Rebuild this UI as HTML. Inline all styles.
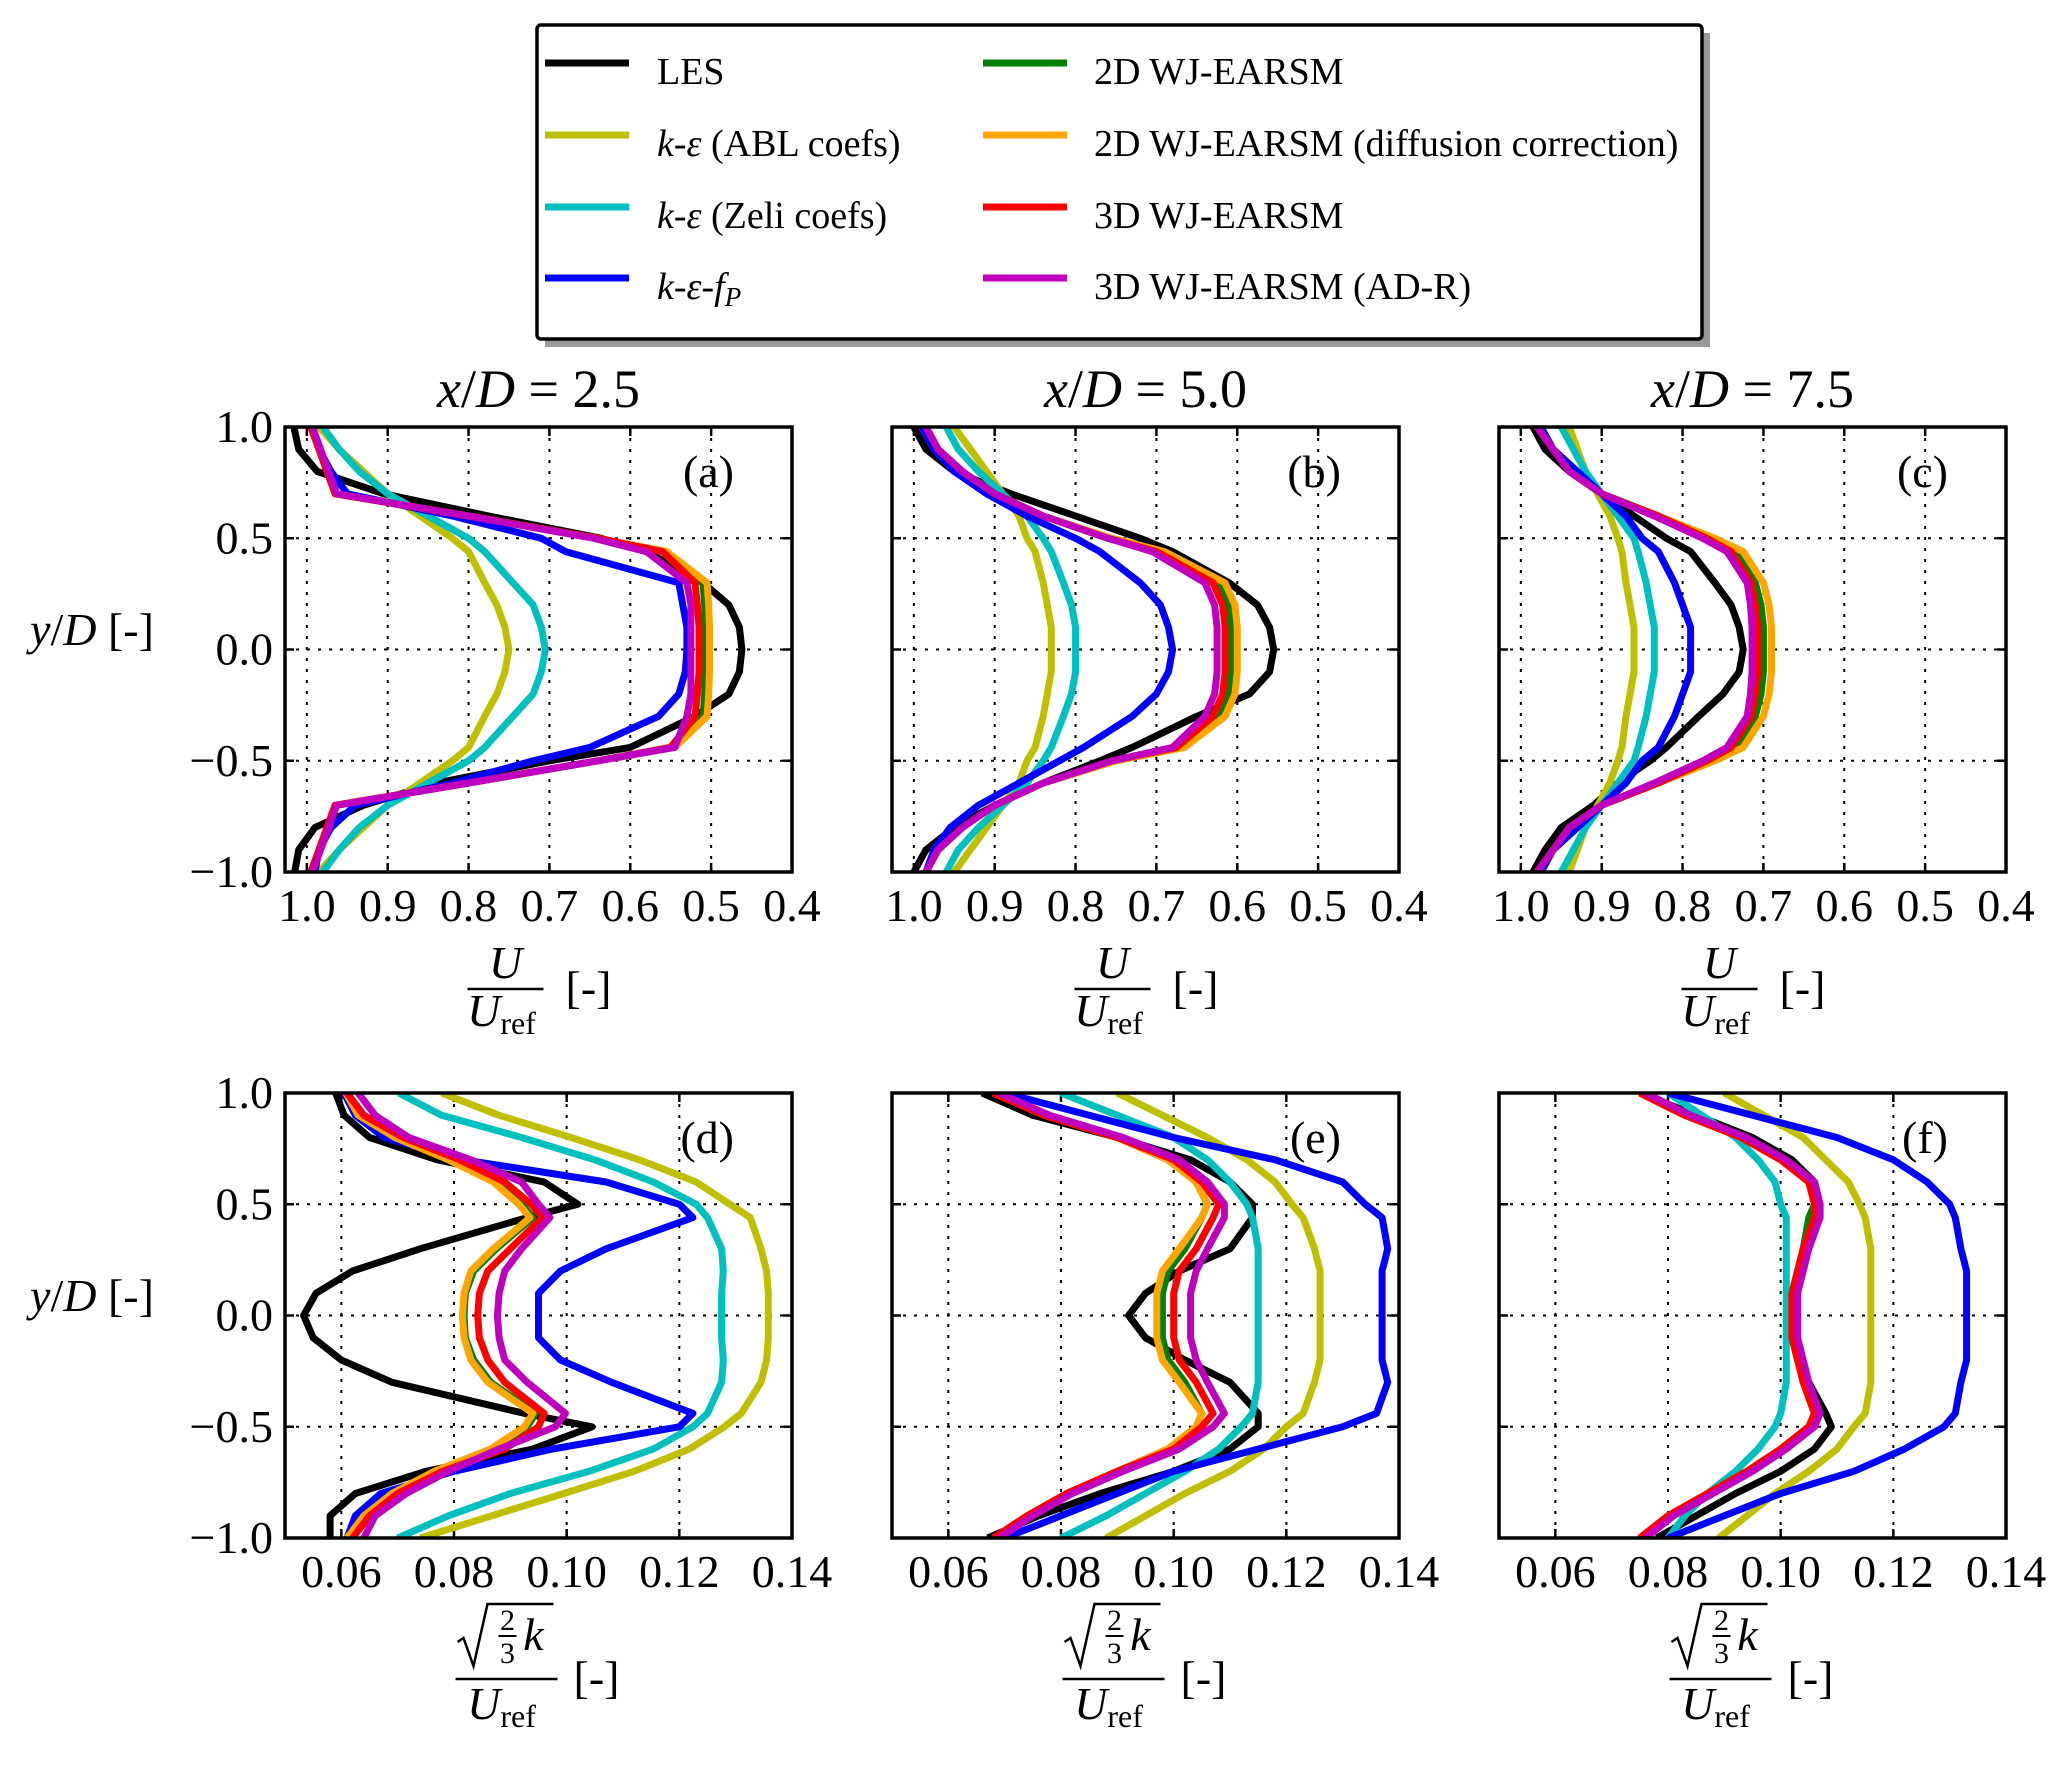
<!DOCTYPE html>
<html><head><meta charset="utf-8"><style>
html,body{margin:0;padding:0;background:#fff;}
svg{display:block;font-family:"Liberation Serif",serif;}
</style></head><body>
<svg id="fig" width="2067" height="1765" viewBox="0 0 2067 1765" xmlns="http://www.w3.org/2000/svg">
<g id="legend">
<rect x="545" y="33" width="1165" height="314" fill="#9a9a9a"/>
<rect x="537" y="25" width="1165" height="314" rx="4" fill="#fff" stroke="#000" stroke-width="3.5"/>
</g>
<g id="panels"></g>
</svg>
<script>
const NS="http://www.w3.org/2000/svg";
const Y=[1,0.9,0.8,0.7,0.6,0.5,0.44,0.3,0.2,0.1,0,-0.1,-0.2,-0.3,-0.44,-0.5,-0.6,-0.7,-0.8,-0.9,-1];
const seriesNames=["LES","k-eps ABL","k-eps Zeli","k-eps-fP","2D WJ-EARSM","2D WJ-EARSM diff","3D WJ-EARSM","3D WJ-EARSM AD-R"];
const seriesColors=["#000000","#bfbf00","#00bfbf","#0000ff","#008000","#ffa500","#ff0000","#bf00bf"];
const topTicks=[1.0,0.9,0.8,0.7,0.6,0.5,0.4];
const topTickLabels=["1.0","0.9","0.8","0.7","0.6","0.5","0.4"];
const botTicks=[0.06,0.08,0.10,0.12,0.14];
const botTickLabels=["0.06","0.08","0.10","0.12","0.14"];
const yTicks=[1,0.5,0,-0.5,-1];
const yTickLabels=["1.0","0.5","0.0","\u22120.5","\u22121.0"];
const panelTitles=["2.5","5.0","7.5"];
const panelLetters=["(a)","(b)","(c)","(d)","(e)","(f)"];
const a_les=[1.016,1.01,0.987,0.905,0.775,0.636,0.58,0.51,0.478,0.465,0.462,0.465,0.478,0.52,0.6,0.7,0.84,0.93,0.99,1.01,1.015];
const a_abl=[0.985,0.96,0.93,0.9,0.86,0.82,0.8,0.78,0.765,0.755,0.75,0.755,0.765,0.78,0.8,0.82,0.86,0.9,0.93,0.96,0.985];
const a_zeli=[0.98,0.96,0.935,0.9,0.85,0.8,0.78,0.745,0.72,0.71,0.705,0.71,0.72,0.745,0.78,0.8,0.85,0.9,0.935,0.96,0.98];
const a_fp=[0.995,0.985,0.97,0.95,0.82,0.71,0.68,0.54,0.535,0.53,0.53,0.532,0.54,0.565,0.65,0.72,0.82,0.94,0.97,0.985,0.99];
const a_2d=[0.995,0.985,0.975,0.965,0.8,0.64,0.56,0.51,0.508,0.507,0.507,0.507,0.508,0.51,0.55,0.64,0.8,0.965,0.975,0.985,0.995];
const a_2dd=[0.995,0.985,0.975,0.965,0.8,0.64,0.555,0.505,0.503,0.502,0.502,0.502,0.503,0.505,0.545,0.64,0.8,0.965,0.975,0.985,0.995];
const a_3d=[0.995,0.985,0.975,0.965,0.8,0.64,0.56,0.52,0.517,0.515,0.515,0.515,0.517,0.52,0.55,0.64,0.8,0.965,0.975,0.985,0.995];
const a_adr=[0.993,0.983,0.973,0.963,0.8,0.645,0.58,0.53,0.525,0.525,0.525,0.525,0.525,0.53,0.545,0.64,0.8,0.963,0.973,0.983,0.993];
const b_les=[1.0,0.985,0.95,0.88,0.8,0.72,0.68,0.61,0.575,0.56,0.555,0.56,0.585,0.65,0.73,0.77,0.84,0.9,0.95,0.985,1.0];
const b_abl=[0.95,0.93,0.91,0.89,0.87,0.86,0.85,0.84,0.835,0.83,0.83,0.83,0.835,0.84,0.85,0.86,0.87,0.89,0.91,0.93,0.95];
const b_zeli=[0.96,0.945,0.92,0.89,0.86,0.84,0.83,0.815,0.805,0.8,0.8,0.8,0.805,0.815,0.83,0.84,0.86,0.89,0.92,0.945,0.96];
const b_fp=[0.99,0.975,0.95,0.91,0.86,0.8,0.77,0.72,0.695,0.685,0.68,0.685,0.7,0.73,0.79,0.82,0.87,0.92,0.955,0.975,0.985];
const b_2d=[0.985,0.97,0.94,0.9,0.84,0.76,0.7,0.625,0.61,0.607,0.607,0.607,0.61,0.625,0.67,0.75,0.84,0.9,0.94,0.97,0.985];
const b_2dd=[0.985,0.97,0.94,0.9,0.84,0.755,0.69,0.615,0.603,0.6,0.6,0.6,0.603,0.615,0.665,0.75,0.84,0.9,0.94,0.97,0.985];
const b_3d=[0.985,0.97,0.94,0.9,0.84,0.76,0.7,0.63,0.618,0.615,0.615,0.615,0.618,0.63,0.675,0.755,0.84,0.9,0.94,0.97,0.985];
const b_adr=[0.985,0.97,0.94,0.9,0.84,0.76,0.705,0.64,0.628,0.625,0.625,0.625,0.628,0.64,0.68,0.755,0.84,0.9,0.94,0.97,0.985];
const c_les=[0.985,0.97,0.94,0.9,0.86,0.82,0.79,0.76,0.74,0.73,0.725,0.73,0.75,0.78,0.82,0.84,0.88,0.91,0.95,0.97,0.985];
const c_abl=[0.94,0.93,0.92,0.905,0.89,0.88,0.875,0.87,0.865,0.86,0.86,0.86,0.865,0.87,0.875,0.88,0.89,0.905,0.92,0.93,0.94];
const c_zeli=[0.95,0.935,0.92,0.9,0.88,0.86,0.855,0.845,0.84,0.835,0.835,0.835,0.84,0.845,0.855,0.86,0.88,0.9,0.92,0.935,0.95];
const c_fp=[0.975,0.96,0.93,0.9,0.87,0.85,0.83,0.81,0.8,0.79,0.79,0.79,0.8,0.81,0.83,0.85,0.87,0.9,0.93,0.96,0.975];
const c_2d=[0.98,0.96,0.94,0.9,0.83,0.765,0.735,0.71,0.703,0.7,0.7,0.7,0.703,0.71,0.735,0.765,0.83,0.9,0.94,0.96,0.98];
const c_2dd=[0.98,0.96,0.94,0.9,0.83,0.76,0.725,0.7,0.693,0.69,0.69,0.69,0.693,0.7,0.725,0.76,0.83,0.9,0.94,0.96,0.98];
const c_3d=[0.98,0.96,0.94,0.9,0.83,0.77,0.74,0.715,0.71,0.707,0.707,0.707,0.71,0.715,0.74,0.77,0.83,0.9,0.94,0.96,0.98];
const c_adr=[0.98,0.96,0.94,0.9,0.835,0.775,0.745,0.72,0.716,0.714,0.714,0.714,0.716,0.72,0.745,0.775,0.835,0.9,0.94,0.96,0.98];
const d_les=[0.059,0.0605,0.065,0.077,0.096,0.102,0.093,0.074,0.062,0.0555,0.0533,0.055,0.06,0.069,0.0925,0.1045,0.094,0.075,0.0625,0.058,0.058];
const d_abl=[0.0778,0.088,0.1008,0.1129,0.123,0.129,0.1326,0.1345,0.1355,0.1358,0.1358,0.1358,0.1355,0.1345,0.131,0.128,0.1218,0.112,0.0995,0.0867,0.074];
const d_zeli=[0.0702,0.0778,0.092,0.105,0.1154,0.123,0.125,0.1275,0.1278,0.1275,0.1275,0.1275,0.1278,0.1275,0.125,0.1224,0.1154,0.104,0.09,0.079,0.070];
const d_fp=[0.0605,0.0625,0.0676,0.0817,0.107,0.12,0.1224,0.107,0.0989,0.095,0.095,0.095,0.0989,0.108,0.1224,0.12,0.0975,0.080,0.067,0.0625,0.061];
const d_2d=[0.061,0.0635,0.070,0.0795,0.0875,0.092,0.094,0.0875,0.0835,0.082,0.0818,0.082,0.0835,0.0865,0.0945,0.093,0.087,0.077,0.0695,0.0645,0.0615];
const d_2dd=[0.0608,0.063,0.0695,0.079,0.087,0.0915,0.0935,0.087,0.083,0.0818,0.0815,0.0818,0.083,0.086,0.094,0.0925,0.0865,0.0765,0.069,0.064,0.061];
const d_3d=[0.061,0.064,0.071,0.081,0.089,0.0937,0.0957,0.09,0.086,0.0845,0.0842,0.0845,0.086,0.089,0.096,0.095,0.089,0.078,0.070,0.065,0.062];
const d_adr=[0.063,0.066,0.072,0.083,0.092,0.095,0.097,0.092,0.089,0.088,0.0877,0.088,0.089,0.093,0.0998,0.098,0.088,0.079,0.0715,0.066,0.064];
const e_les=[0.066,0.075,0.09,0.103,0.11,0.114,0.114,0.11,0.101,0.095,0.092,0.095,0.102,0.11,0.115,0.115,0.11,0.1,0.087,0.076,0.067];
const e_abl=[0.09,0.098,0.106,0.113,0.118,0.121,0.123,0.125,0.126,0.126,0.126,0.126,0.126,0.125,0.123,0.12,0.116,0.11,0.102,0.095,0.088];
const e_zeli=[0.08,0.09,0.1,0.106,0.11,0.113,0.114,0.115,0.115,0.115,0.115,0.115,0.115,0.115,0.114,0.112,0.108,0.102,0.095,0.088,0.08];
const e_fp=[0.07,0.085,0.1,0.118,0.13,0.134,0.137,0.138,0.137,0.137,0.137,0.137,0.137,0.138,0.136,0.13,0.115,0.1,0.09,0.08,0.07];
const e_2d=[0.068,0.077,0.09,0.099,0.104,0.106,0.105,0.102,0.099,0.098,0.098,0.098,0.099,0.102,0.105,0.104,0.099,0.09,0.081,0.074,0.068];
const e_2dd=[0.068,0.077,0.09,0.099,0.104,0.106,0.105,0.101,0.098,0.097,0.097,0.097,0.098,0.101,0.105,0.104,0.099,0.09,0.081,0.074,0.068];
const e_3d=[0.068,0.077,0.09,0.1,0.105,0.108,0.107,0.104,0.101,0.1,0.1,0.1,0.101,0.104,0.107,0.105,0.1,0.09,0.081,0.074,0.068];
const e_adr=[0.069,0.078,0.091,0.101,0.106,0.109,0.109,0.106,0.104,0.103,0.103,0.103,0.104,0.106,0.109,0.107,0.101,0.091,0.082,0.075,0.069];
const f_les=[0.075,0.085,0.095,0.102,0.106,0.107,0.106,0.104,0.103,0.102,0.101,0.102,0.103,0.105,0.108,0.109,0.106,0.1,0.092,0.085,0.078];
const f_abl=[0.09,0.097,0.104,0.108,0.112,0.114,0.115,0.116,0.116,0.116,0.116,0.116,0.116,0.116,0.115,0.113,0.11,0.105,0.099,0.094,0.089];
const f_zeli=[0.08,0.086,0.092,0.096,0.099,0.1,0.101,0.101,0.101,0.101,0.101,0.101,0.101,0.101,0.1,0.099,0.096,0.092,0.087,0.083,0.08];
const f_fp=[0.08,0.095,0.11,0.12,0.126,0.13,0.131,0.132,0.133,0.133,0.133,0.133,0.133,0.132,0.131,0.129,0.122,0.113,0.1,0.09,0.08];
const f_2d=[0.075,0.083,0.093,0.1,0.105,0.106,0.105,0.104,0.103,0.102,0.102,0.102,0.103,0.104,0.106,0.105,0.1,0.094,0.087,0.08,0.075];
const f_2dd=[0.075,0.083,0.093,0.1,0.105,0.106,0.106,0.104,0.103,0.102,0.102,0.102,0.103,0.104,0.106,0.105,0.1,0.094,0.087,0.08,0.075];
const f_3d=[0.075,0.083,0.093,0.1,0.105,0.106,0.106,0.104,0.103,0.102,0.102,0.102,0.103,0.104,0.106,0.105,0.1,0.094,0.087,0.08,0.075];
const f_adr=[0.076,0.084,0.094,0.101,0.106,0.107,0.107,0.105,0.104,0.103,0.103,0.103,0.104,0.105,0.107,0.106,0.101,0.095,0.088,0.081,0.076];

const panelSeries=[
 [a_les,a_abl,a_zeli,a_fp,a_2d,a_2dd,a_3d,a_adr],
 [b_les,b_abl,b_zeli,b_fp,b_2d,b_2dd,b_3d,b_adr],
 [c_les,c_abl,c_zeli,c_fp,c_2d,c_2dd,c_3d,c_adr],
 [d_les,d_abl,d_zeli,d_fp,d_2d,d_2dd,d_3d,d_adr],
 [e_les,e_abl,e_zeli,e_fp,e_2d,e_2dd,e_3d,e_adr],
 [f_les,f_abl,f_zeli,f_fp,f_2d,f_2dd,f_3d,f_adr]];

const svg=document.getElementById('fig');
const root=document.getElementById('panels');
function mk(tag,attrs,parent){const e=document.createElementNS(NS,tag);for(const k in attrs)e.setAttribute(k,attrs[k]);(parent||root).appendChild(e);return e;}

const PL=[285,892,1499], PW=507;
const PT=[427,1093], PH=445;

for(let p=0;p<6;p++){
  const row=Math.floor(p/3), col=p%3;
  const L=PL[col], T=PT[row], R=L+PW, B=T+PH;
  const isTop=row===0;
  const xmin=isTop?1.027:0.05, xmax=isTop?0.4:0.14;
  const sx=v=>L+(v-xmin)/(xmax-xmin)*PW;
  const sy=v=>T+(1-v)/2*PH;
  const g=mk('g',{});
  
  
  const ticks=isTop?topTicks:botTicks, tl=isTop?topTickLabels:botTickLabels;
  ticks.forEach((t,i)=>{
    const x=sx(t);
    if(x>L+2&&x<R-2){
      const ln=mk('line',{x1:x,x2:x,y1:T,y2:B,stroke:'#000','stroke-width':2,'stroke-dasharray':'3,8'},g);
      
      
      const tk1=mk('line',{x1:x,x2:x,y1:B,y2:B-9,stroke:'#000','stroke-width':2.5},g);
      
      
      const tk2=mk('line',{x1:x,x2:x,y1:T,y2:T+9,stroke:'#000','stroke-width':2.5},g);
      
      
    }
    const tx=mk('text',{x:x,y:B+49,'font-size':46,'text-anchor':'middle'},g);
    tx.textContent=tl[i];
    
    
  });
  yTicks.forEach((t,i)=>{
    const y=sy(t);
    if(y>T+2&&y<B-2){
      const ln=mk('line',{x1:L,x2:R,y1:y,y2:y,stroke:'#000','stroke-width':2,'stroke-dasharray':'3,8'},g);
      
      
      const tk1=mk('line',{x1:L,x2:L+9,y1:y,y2:y,stroke:'#000','stroke-width':2.5},g);
      
      
      const tk2=mk('line',{x1:R-9,x2:R,y1:y,y2:y,stroke:'#000','stroke-width':2.5},g);
      
      
    }
    if(col===0){
      const tx=mk('text',{x:L-12,y:y+15,'font-size':46,'text-anchor':'end'},g);
      tx.textContent=yTickLabels[i];
      
      
    }
  });
  const cid='clip'+p;
  const cp=mk('clipPath',{id:cid},g);
  mk('rect',{x:L,y:T,width:PW,height:PH},cp);
  const lg=mk('g',{'clip-path':'url(#'+cid+')'},g);
  
  
  panelSeries[p].forEach((arr,s)=>{
    const pts=arr.map((v,i)=>sx(v).toFixed(1)+','+sy(Y[i]).toFixed(1)).join(' ');
    const pl=mk('polyline',{points:pts,fill:'none',stroke:seriesColors[s],'stroke-width':7,'stroke-linejoin':'round'},lg);
    
    
  });
  const fr=mk('rect',{x:L,y:T,width:PW,height:PH,fill:'none',stroke:'#000','stroke-width':3.5},g);
  
  
  const let_=mk('text',{x:R-58,y:T+60,'font-size':46,'text-anchor':'end'},g);
  let_.textContent=panelLetters[p];
  
  
  const cx=L+PW/2-33;
  if(isTop){
    const ti=mk('text',{x:L+PW/2,y:T-20,'font-size':54,'text-anchor':'middle'},g);
    ti.innerHTML='<tspan font-style="italic">x</tspan>/<tspan font-style="italic">D</tspan> = 2.5'.replace('2.5',panelTitles[col]);
    
    
    const xl=mk('g',{},g);
    
    
    mk('text',{x:cx,y:B+106,'font-size':46,'font-style':'italic','text-anchor':'middle'},xl).textContent='U';
    mk('line',{x1:cx-38,x2:cx+38,y1:B+117,y2:B+117,stroke:'#000','stroke-width':2.5},xl);
    const dn=mk('text',{x:cx-4,y:B+154,'font-size':46,'text-anchor':'middle'},xl);
    dn.innerHTML='<tspan font-style="italic">U</tspan><tspan font-size="32" dy="8">ref</tspan>';
    mk('text',{x:cx+60,y:B+131,'font-size':46},xl).textContent='[-]';
  } else {
    const xl=mk('g',{},g);
    
    
    mk('path',{d:`M${cx-48},${B+104} l6,-4 l10,28 l14,-62 h66`,fill:'none',stroke:'#000','stroke-width':2.5},xl);
    mk('text',{x:cx+2,y:B+92,'font-size':30,'text-anchor':'middle'},xl).textContent='2';
    mk('line',{x1:cx-7,x2:cx+11,y1:B+98,y2:B+98,stroke:'#000','stroke-width':2},xl);
    mk('text',{x:cx+2,y:B+125,'font-size':30,'text-anchor':'middle'},xl).textContent='3';
    mk('text',{x:cx+28,y:B+112,'font-size':46,'font-style':'italic','text-anchor':'middle'},xl).textContent='k';
    mk('line',{x1:cx-50,x2:cx+52,y1:B+141,y2:B+141,stroke:'#000','stroke-width':2.5},xl);
    const dn=mk('text',{x:cx-4,y:B+181,'font-size':46,'text-anchor':'middle'},xl);
    dn.innerHTML='<tspan font-style="italic">U</tspan><tspan font-size="32" dy="8">ref</tspan>';
    mk('text',{x:cx+68,y:B+155,'font-size':46},xl).textContent='[-]';
  }
  if(col===0){
    const yl=mk('text',{x:92,y:T+218,'font-size':46,'text-anchor':'middle'},g);
    yl.innerHTML='<tspan font-style="italic">y</tspan>/<tspan font-style="italic">D</tspan> [-]';
    
    
  }
}
const legendLabels=['LES','<tspan font-style="italic">k</tspan>-<tspan font-style="italic">ε</tspan> (ABL coefs)','<tspan font-style="italic">k</tspan>-<tspan font-style="italic">ε</tspan> (Zeli coefs)','<tspan font-style="italic">k</tspan>-<tspan font-style="italic">ε</tspan>-<tspan font-style="italic">f</tspan><tspan font-style="italic" font-size="27" dy="7">P</tspan>','2D WJ-EARSM','2D WJ-EARSM (diffusion correction)','3D WJ-EARSM','3D WJ-EARSM (AD-R)'];
const leg=document.getElementById('legend');
const rowsY=[63,135,207,278];
for(let i=0;i<8;i++){
  const c=Math.floor(i/4), r=i%4;
  const x0=c===0?545:983, tx=c===0?657:1094;
  const ln=mk('line',{x1:x0,x2:x0+84,y1:rowsY[r],y2:rowsY[r],stroke:seriesColors[i],'stroke-width':7},leg);
  
  
  const t=mk('text',{x:tx,y:rowsY[r]+21,'font-size':38},leg);
  t.innerHTML=legendLabels[i];
  
  
}
</script>
</body></html>
